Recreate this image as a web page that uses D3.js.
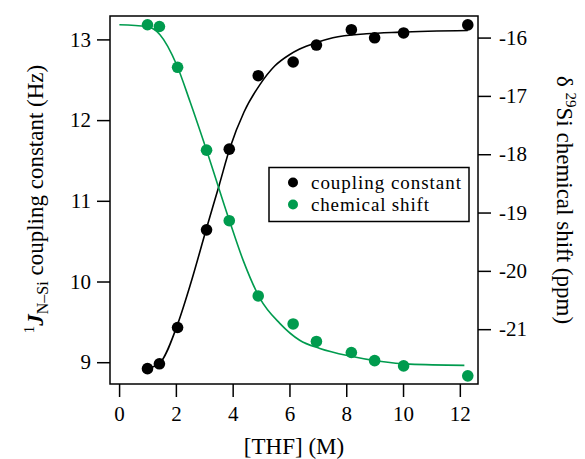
<html>
<head>
  <script src="https://d3js.org/d3.v7.min.js"></script>
  <style>
    body { margin: 0; background: #fff; }
    svg text { font-family: "Liberation Serif", "Times New Roman", serif; fill: #000; }
    .axis line { stroke: #000; stroke-width: 1.5; }
    .axis .domain { stroke: none; }
  </style>
</head>
<body>
  <svg id="plot" width="585" height="459"></svg>
  <script>

    // THF concentration (M) for each sample
    const thf = [1.00, 1.42, 2.06, 3.08, 3.88, 4.90, 6.13, 6.95, 8.18, 9.00, 10.02, 12.28];
    // coupling constant (Hz), left axis
    const coupling = [8.92, 8.98, 9.43, 10.64, 11.64, 12.55, 12.72, 12.93, 13.12, 13.02, 13.08, 13.18];
    // 29Si chemical shift (ppm), right axis
    const shift = [-15.78, -15.81, -16.51, -17.93, -19.14, -20.43, -20.91, -21.21, -21.40, -21.54, -21.63, -21.80];

    // fitted curves
    const fitJx = [1.03, 1.41, 2.03, 2.50, 3.08, 3.53, 3.90, 4.40, 4.96, 5.48, 6.00, 6.36, 6.95, 7.53, 8.71, 9.88, 12.28];
    const fitJy = [8.93, 8.98, 9.44, 9.95, 10.66, 11.20, 11.65, 12.10, 12.44, 12.67, 12.81, 12.88, 12.96, 13.02, 13.07, 13.09, 13.11];
    const fitSx = [0.01, 0.97, 1.44, 2.03, 2.50, 3.08, 3.88, 4.37, 4.96, 5.66, 6.36, 7.07, 8.12, 9.17, 10.23, 12.16];
    const fitSy = [-15.78, -15.81, -15.95, -16.47, -17.10, -17.93, -19.13, -19.82, -20.47, -20.90, -21.19, -21.33, -21.46, -21.55, -21.60, -21.62];

    const xTicks = [0, 2, 4, 6, 8, 10, 12];
    const leftTicks = [9, 10, 11, 12, 13];
    const rightTicks = [-16, -17, -18, -19, -20, -21];
    const legendLabels = ["coupling constant", "chemical shift"];

    const green = "#009b4e";
    const serif = "Liberation Serif, Times New Roman, serif";
    const plot = d3.select("#plot");
    const box = { left: 110, right: 478, top: 16, bottom: 384 };

    const xScale = d3.scaleLinear().domain([-0.32, 12.64]).range([box.left, box.right]);
    const yLeft = d3.scaleLinear().domain([8.73, 13.29]).range([box.bottom, box.top]);
    const yRight = d3.scaleLinear().domain([-21.94, -15.63]).range([box.bottom, box.top]);

    // axes
    const leftAxis = plot.append("g").attr("class", "axis")
        .attr("transform", "translate(" + box.left + ",0)")
        .call(d3.axisLeft(yLeft).tickValues(leftTicks).tickFormat(d => String(d)).tickSize(13).tickPadding(6));
    const rightAxis = plot.append("g").attr("class", "axis")
        .attr("transform", "translate(" + box.right + ",0)")
        .call(d3.axisRight(yRight).tickValues(rightTicks).tickFormat(d => String(d)).tickSize(13).tickPadding(8));
    const bottomAxis = plot.append("g").attr("class", "axis")
        .attr("transform", "translate(0," + box.bottom + ")")
        .call(d3.axisBottom(xScale).tickValues(xTicks).tickFormat(d => String(d)).tickSize(13).tickPadding(9));
    [leftAxis, rightAxis, bottomAxis].forEach(a => {
      a.attr("font-family", serif).attr("font-size", 21);
    });

    plot.append("rect")
        .attr("x", box.left).attr("y", box.top)
        .attr("width", box.right - box.left).attr("height", box.bottom - box.top)
        .attr("fill", "none").attr("stroke", "#000").attr("stroke-width", 1.5);

    // fit curves
    const lineJ = d3.line().x(d => xScale(d[0])).y(d => yLeft(d[1])).curve(d3.curveMonotoneX);
    const lineS = d3.line().x(d => xScale(d[0])).y(d => yRight(d[1])).curve(d3.curveMonotoneX);
    plot.append("path").datum(d3.zip(fitJx, fitJy)).attr("d", lineJ)
        .attr("fill", "none").attr("stroke", "#000").attr("stroke-width", 1.6);
    plot.append("path").datum(d3.zip(fitSx, fitSy)).attr("d", lineS)
        .attr("fill", "none").attr("stroke", green).attr("stroke-width", 1.6);

    // points
    plot.append("g").selectAll("circle").data(d3.zip(thf, coupling))
        .join("circle")
        .attr("cx", d => xScale(d[0])).attr("cy", d => yLeft(d[1]))
        .attr("r", 5.8).attr("fill", "#000");
    plot.append("g").selectAll("circle").data(d3.zip(thf, shift))
        .join("circle")
        .attr("cx", d => xScale(d[0])).attr("cy", d => yRight(d[1]))
        .attr("r", 5.8).attr("fill", green);

    // legend
    const legendWidths = [150, 118];
    const legend = plot.append("g").attr("font-family", serif);
    legend.append("rect").attr("x", 269).attr("y", 167.5).attr("width", 200).attr("height", 54)
          .attr("fill", "#fff").attr("stroke", "#000").attr("stroke-width", 1.5);
    legend.selectAll("circle").data(legendLabels).join("circle")
          .attr("cx", 293).attr("cy", (d, i) => 182.5 + i * 22)
          .attr("r", 5).attr("fill", (d, i) => i == 0 ? "#000" : green);
    legend.selectAll("text").data(legendLabels).join("text")
          .attr("x", 311).attr("y", (d, i) => 188.5 + i * 22)
          .attr("font-size", 19)
          .attr("textLength", (d, i) => legendWidths[i])
          .attr("lengthAdjust", "spacing")
          .text(d => d);

    // axis titles
    plot.append("text")
        .attr("transform", "translate(294,454)")
        .attr("text-anchor", "middle").attr("font-family", serif).attr("font-size", 23)
        .text("[THF] (M)");

    const leftTitle = plot.append("text")
        .attr("transform", "translate(43,199) rotate(-90)")
        .attr("text-anchor", "middle").attr("font-family", serif).attr("font-size", 23);
    leftTitle.append("tspan").attr("dy", -9).attr("font-size", 15).text("1");
    leftTitle.append("tspan").attr("dy", 9).attr("font-weight", "bold").attr("font-style", "italic").text("J");
    leftTitle.append("tspan").attr("dy", 5).attr("font-size", 16).text("N–Si");
    leftTitle.append("tspan").attr("dy", -5).text(" coupling constant (Hz)");

    const rightTitle = plot.append("text")
        .attr("transform", "translate(557,200) rotate(90)")
        .attr("text-anchor", "middle").attr("font-family", serif).attr("font-size", 23);
    rightTitle.append("tspan").text("δ ");
    rightTitle.append("tspan").attr("dy", -9).attr("font-size", 15).text("29");
    rightTitle.append("tspan").attr("dy", 9).text("Si chemical shift (ppm)");

  </script>
</body>
</html>
